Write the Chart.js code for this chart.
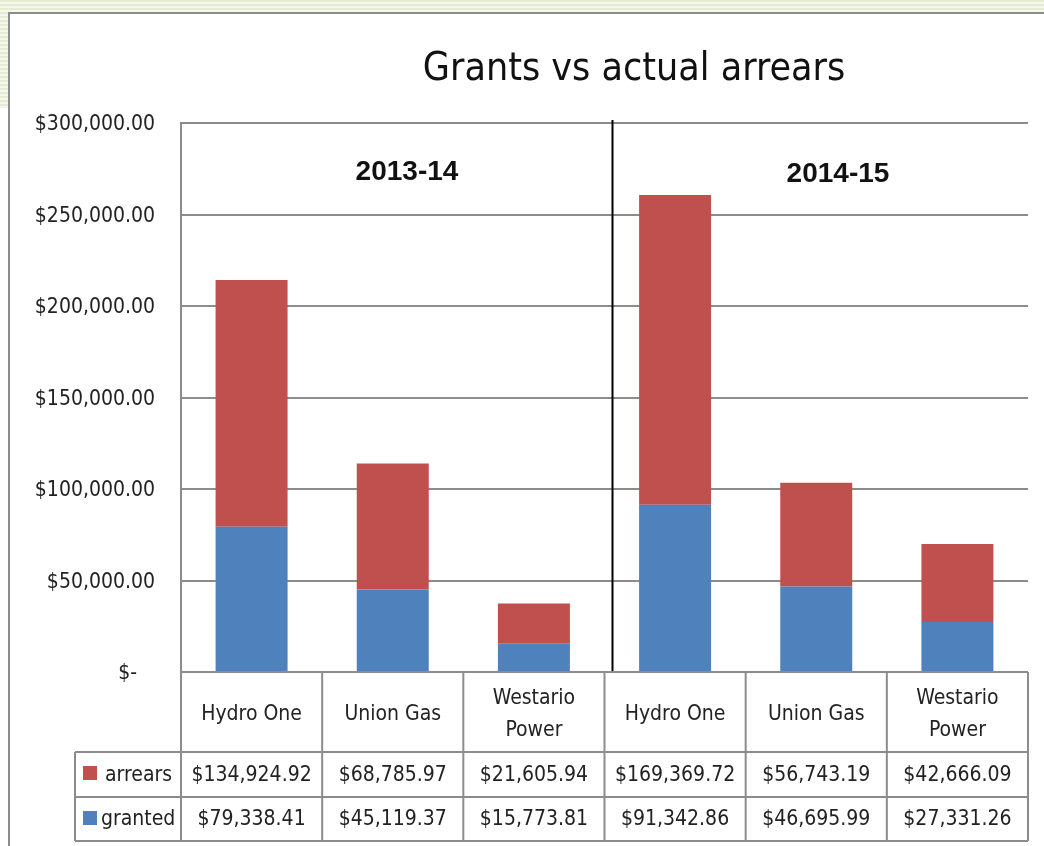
<!DOCTYPE html>
<html lang="en">
<head>
    <meta charset="UTF-8">
    <title>Grants vs actual arrears</title>
    <style>
        body {
            margin: 0;
            background: #fff;
        }

        .page {
            position: relative;
            width: 1044px;
            height: 846px;
            overflow: hidden;
            background: #fff;
        }

        .stripes-top, .stripes-left {
            position: absolute;
            background: repeating-linear-gradient(to bottom, #e4edd3 0px, #e4edd3 2px, #f4f8ec 2px, #f4f8ec 4px);
        }

        .stripes-top { left: 0; top: 0; width: 1044px; height: 12px; }
        .stripes-left { left: 0; top: 0; width: 8px; height: 108px; }

        .frame {
            position: absolute;
            left: 8px;
            top: 12px;
            right: -10px;
            bottom: -10px;
            border-left: 2px solid #8c8c8c;
            border-top: 2px solid #8c8c8c;
            background: #fff;
        }

        canvas {
            position: absolute;
            left: 0;
            top: 0;
        }
    </style>
    <script src="https://cdn.jsdelivr.net/npm/chart.js"></script>
</head>
<body>
    <div class="page">
        <div class="stripes-top"></div>
        <div class="stripes-left"></div>
        <div class="frame"></div>
        <canvas id="arrearsChart" width="1044" height="846"></canvas>
    </div>

    <script>
        const companies = ['Hydro One', 'Union Gas', ['Westario', 'Power'], 'Hydro One', 'Union Gas', ['Westario', 'Power']];
        const periods = ['2013-14', '2014-15'];
        const arrears = [134924.92, 68785.97, 21605.94, 169369.72, 56743.19, 42666.09];
        const granted = [79338.41, 45119.37, 15773.81, 91342.86, 46695.99, 27331.26];
        const yTicks = [0, 50000, 100000, 150000, 200000, 250000, 300000];

        const RED = '#C0504D';
        const BLUE = '#4F81BD';
        const GRID = '#8c8c8c';
        const NARROW = "'Liberation Sans Narrow', 'DejaVu Sans Condensed', sans-serif";

        function money(v) {
            return '$' + v.toLocaleString('en-US', { minimumFractionDigits: 2, maximumFractionDigits: 2 });
        }

        // title, period labels, divider and the data table underneath
        const extras = {
            id: 'extras',
            afterDraw(chart) {
                const ctx = chart.ctx;
                const x = chart.scales.x;
                const area = chart.chartArea;
                const half = (x.getPixelForValue(1) - x.getPixelForValue(0)) / 2;
                const rowTop = area.bottom, rowA = 752, rowB = 797, rowEnd = 841;
                const legendLeft = 75;

                ctx.save();
                ctx.fillStyle = '#111';
                ctx.textAlign = 'center';
                ctx.textBaseline = 'middle';
                ctx.font = '39px ' + NARROW;
                ctx.fillText('Grants vs actual arrears', 634, 70);

                ctx.font = 'bold 28px "Liberation Sans", sans-serif';
                ctx.fillText(periods[0], 407, 172);
                ctx.fillText(periods[1], 838, 174);

                // divider between the two years
                const divX = x.getPixelForValue(2) + half + 8;
                ctx.strokeStyle = '#000';
                ctx.lineWidth = 2;
                ctx.beginPath();
                ctx.moveTo(divX, area.top - 3);
                ctx.lineTo(divX, area.bottom);
                ctx.stroke();

                // table grid
                ctx.strokeStyle = GRID;
                ctx.lineWidth = 2;
                ctx.beginPath();
                [rowTop, rowA, rowB, rowEnd].forEach((y, i) => {
                    ctx.moveTo(i === 0 ? area.left : legendLeft, y);
                    ctx.lineTo(area.right, y);
                });
                ctx.moveTo(legendLeft, rowA);
                ctx.lineTo(legendLeft, rowEnd);
                for (let i = 0; i <= companies.length; i++) {
                    const cx = x.getPixelForValue(0) - half + i * half * 2;
                    ctx.moveTo(cx, rowTop);
                    ctx.lineTo(cx, rowEnd);
                }
                ctx.stroke();

                ctx.fillStyle = '#222';
                ctx.font = '21px ' + NARROW;
                companies.forEach((c, i) => {
                    const cx = x.getPixelForValue(i);
                    if (Array.isArray(c)) {
                        ctx.fillText(c[0], cx, 699);
                        ctx.fillText(c[1], cx, 731);
                    } else {
                        ctx.fillText(c, cx, 715);
                    }
                    ctx.fillText(money(arrears[i]), cx, (rowA + rowB) / 2 + 1);
                    ctx.fillText(money(granted[i]), cx, (rowB + rowEnd) / 2 + 1);
                });

                ctx.textAlign = 'left';
                ctx.fillStyle = RED;
                ctx.fillRect(83, 766, 14, 14);
                ctx.fillStyle = BLUE;
                ctx.fillRect(83, 811, 14, 14);
                ctx.fillStyle = '#222';
                ctx.fillText('arrears', 105, (rowA + rowB) / 2 + 1);
                ctx.fillText('granted', 101, (rowB + rowEnd) / 2 + 1);
                ctx.restore();
            }
        };

        new Chart(document.getElementById('arrearsChart').getContext('2d'), {
            type: 'bar',
            data: {
                labels: companies,
                datasets: [
                    { label: 'granted', data: granted, backgroundColor: BLUE },
                    { label: 'arrears', data: arrears, backgroundColor: RED }
                ]
            },
            options: {
                responsive: false,
                animation: false,
                layout: { padding: { top: 123, right: 16, bottom: 174, left: 0 } },
                datasets: {
                    bar: { barPercentage: 0.51, categoryPercentage: 1 }
                },
                plugins: {
                    legend: { display: false },
                    title: { display: false },
                    tooltip: { enabled: false }
                },
                scales: {
                    x: {
                        display: false,
                        stacked: true
                    },
                    y: {
                        stacked: true,
                        min: 0,
                        max: 300000,
                        afterFit(scale) { scale.width = 181; },
                        afterBuildTicks(scale) { scale.ticks = yTicks.map(v => ({ value: v })); },
                        border: { display: true, color: GRID, width: 2 },
                        grid: { color: GRID, lineWidth: 2, drawTicks: false },
                        ticks: {
                            padding: 26,
                            labelOffset: 2,
                            color: '#222',
                            font: { family: NARROW, size: 21 },
                            callback: v => v === 0 ? '$-   ' : money(v)
                        }
                    }
                }
            },
            plugins: [extras]
        });
    </script>
</body>
</html>
